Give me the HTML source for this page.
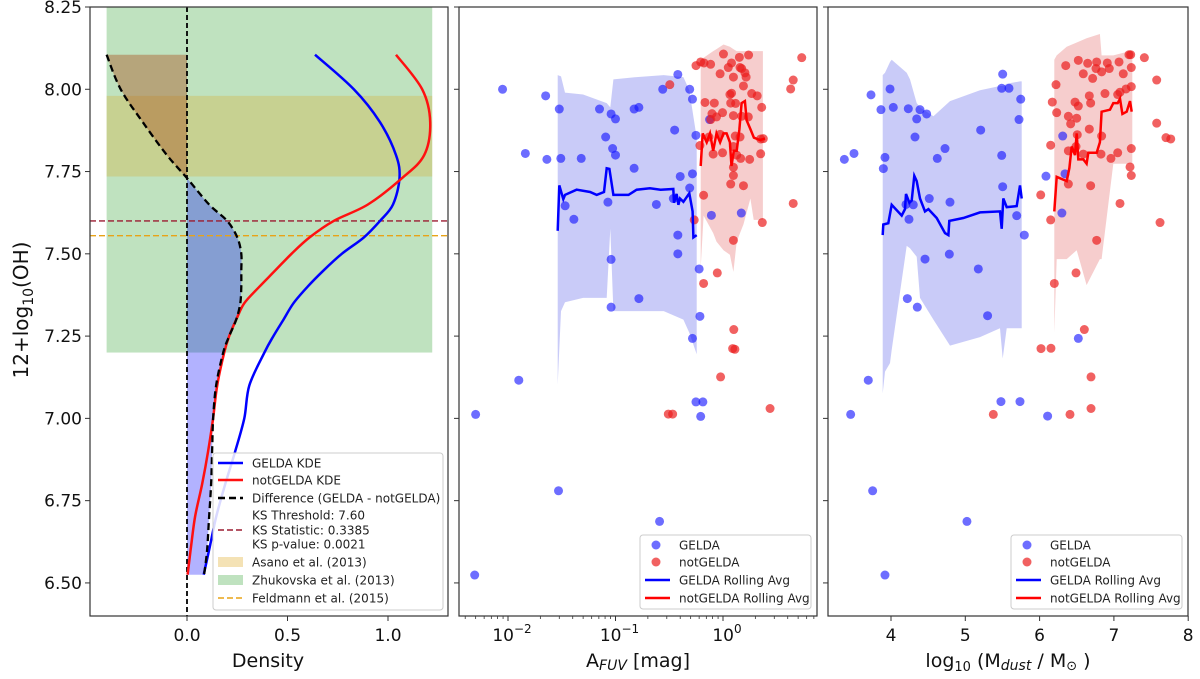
<!DOCTYPE html>
<html><head><meta charset="utf-8"><style>
html,body{margin:0;padding:0;background:#fff;}
svg{display:block;font-family:"DejaVu Sans","Liberation Sans",sans-serif;}
</style></head><body>
<svg id="fig" width="1200" height="679" viewBox="0 0 1200 679" xmlns="http://www.w3.org/2000/svg">
<defs>
<clipPath id="c1"><rect x="90" y="7" width="358" height="609"/></clipPath>
<clipPath id="c2"><rect x="459" y="7" width="358" height="609"/></clipPath>
<clipPath id="c3"><rect x="828" y="7" width="360" height="609"/></clipPath>
</defs>
<g id="p1"></g>
<g id="p2"></g>
<g id="p3"></g>
</svg>
<script>
// ---- shared y ----
const yTicks=[6.50,6.75,7.00,7.25,7.50,7.75,8.00,8.25];
// ---- panel 1 data ----
const kdeGrid=[8.105,8.0,7.9,7.8,7.73,7.65,7.6,7.55,7.5,7.45,7.4,7.35,7.3,7.25,7.2,7.1,7.0,6.9,6.8,6.7,6.6,6.525];
const geldaKde=[0.637,0.83,0.96,1.04,1.057,1.025,0.96,0.88,0.77,0.68,0.60,0.53,0.48,0.43,0.385,0.31,0.285,0.24,0.19,0.145,0.11,0.083];
const notGeldaKde=[1.04,1.17,1.21,1.18,1.07,0.90,0.73,0.61,0.52,0.44,0.36,0.285,0.245,0.21,0.185,0.15,0.13,0.105,0.075,0.04,0.018,0.003];
const diffKde=[-0.40,-0.33,-0.22,-0.10,0,0.11,0.20,0.25,0.27,0.27,0.27,0.265,0.245,0.21,0.18,0.145,0.13,0.125,0.12,0.11,0.10,0.085];
const densTicks=[0.0,0.5,1.0];
const ksThreshold=7.60, feldmann=7.555;
const zhukBand=[7.20,8.25], asanoBand=[7.735,7.98], bandX=[-0.40,1.22];
// ---- panel 2 data ----
const afuvTicks=[-2,-1,0];
const gAfuv=[0.0089,0.0224,0.030,0.0145,0.023,0.031,0.048,0.071,0.091,0.100,0.149,0.165,0.081,0.094,0.10,0.149,0.275,0.38,0.49,0.52,0.355,0.56,0.40,0.52,0.49,0.034,0.041,0.085,0.24,0.345,0.38,0.38,0.091,0.165,0.091,0.60,0.61,0.52,0.78,1.48,0.75,0.0126,0.005,0.56,0.65,0.62,0.0295,0.257,0.0049];
const gOH2=[8.00,7.98,7.94,7.805,7.787,7.79,7.79,7.94,7.925,7.91,7.94,7.945,7.855,7.82,7.80,7.76,8.00,8.045,8.00,7.97,7.876,7.86,7.735,7.743,7.70,7.646,7.605,7.657,7.65,7.668,7.557,7.50,7.483,7.364,7.338,7.454,7.31,7.243,7.617,7.624,7.908,7.116,7.012,7.05,7.05,7.006,6.78,6.687,6.524];
const nAfuv=[0.561,0.62,0.666,0.767,1.01,1.12,1.20,1.42,1.73,0.94,1.25,1.49,1.60,1.64,1.44,1.55,1.16,1.20,1.85,2.08,0.68,0.83,1.18,1.31,2.29,0.79,0.99,0.77,0.87,1.25,1.49,1.72,0.61,0.74,0.94,1.30,1.25,1.44,2.24,2.37,2.24,0.81,0.99,1.34,1.46,1.77,1.25,1.25,1.18,1.55,0.66,0.54,2.32,1.25,0.66,0.885,0.32,5.4,4.5,4.26,4.5,1.26,1.23,1.29,0.95,2.74,0.31,0.34];
const nOH2=[8.072,8.083,8.08,8.076,8.107,8.066,8.08,8.097,8.104,8.047,8.037,8.063,8.05,8.037,8.066,8.01,7.984,7.988,7.987,7.98,7.96,7.958,7.958,7.957,7.945,7.926,7.929,7.908,7.916,7.92,7.918,7.916,7.829,7.855,7.863,7.858,7.826,7.855,7.849,7.85,7.804,7.803,7.807,7.80,7.79,7.787,7.763,7.738,7.712,7.707,7.678,7.603,7.595,7.541,7.41,7.442,8.014,8.096,8.028,8.001,7.653,7.27,7.212,7.21,7.126,7.03,7.013,7.013];
const gRollX2=[0.029,0.030,0.0327,0.0339,0.0435,0.058,0.0668,0.0782,0.0828,0.0877,0.0955,0.132,0.157,0.209,0.263,0.345,0.35,0.37,0.385,0.398,0.428,0.486,0.522,0.53,0.569];
const gRollY2=[7.570,7.708,7.666,7.679,7.695,7.688,7.679,7.688,7.76,7.758,7.679,7.679,7.695,7.699,7.695,7.697,7.655,7.682,7.649,7.668,7.658,7.684,7.629,7.55,7.557];
const gBandX2=[0.029,0.0311,0.0339,0.05,0.0828,0.0895,0.0955,0.157,0.281,0.428,0.486,0.569];
const gBandHi2=[8.043,8.039,7.99,7.984,7.958,7.945,8.03,8.037,8.043,8.037,7.997,7.853];
const gBandLo2=[7.103,7.326,7.353,7.366,7.366,7.576,7.326,7.326,7.326,7.3,7.26,7.195];
const nRollX2=[0.62,0.647,0.705,0.757,0.81,0.87,0.94,1.01,1.08,1.16,1.20,1.26,1.34,1.42,1.49,1.60,1.66,1.80,1.94,2.21,2.46];
const nRollY2=[7.767,7.866,7.839,7.866,7.813,7.866,7.839,7.866,7.866,7.839,7.767,7.813,7.813,7.879,7.958,7.964,7.905,7.879,7.853,7.846,7.85];
const nBandX2=[0.62,0.66,0.81,0.87,1.01,1.16,1.25,1.34,1.55,1.80,1.93,2.35];
const nBandHi2=[8.09,8.096,8.116,8.122,8.136,8.129,8.122,8.116,8.116,8.116,8.116,8.116];
const nBandLo2=[7.458,7.616,7.563,7.537,7.511,7.497,7.445,7.537,7.59,7.668,7.603,7.603];
// ---- panel 3 data ----
const mdTicks=[4,5,6,7,8];
const gMd=[3.731,3.987,3.865,4.031,4.233,4.346,4.39,4.48,4.323,4.727,4.623,3.919,3.897,3.372,3.502,5.503,5.49,5.588,5.746,5.723,5.207,5.49,5.503,6.086,6.311,6.342,6.30,5.692,5.794,4.794,4.515,4.30,4.242,4.458,4.785,5.175,4.22,4.354,5.30,6.521,3.694,3.457,5.48,5.736,6.108,3.753,5.022,3.919,4.202];
const gOH3=[7.983,8.001,7.938,7.945,7.941,7.91,7.938,7.925,7.855,7.82,7.79,7.793,7.759,7.787,7.805,8.046,8.003,8.003,7.97,7.908,7.876,7.799,7.704,7.736,7.858,7.743,7.624,7.616,7.557,7.657,7.668,7.649,7.605,7.484,7.499,7.454,7.364,7.338,7.312,7.243,7.116,7.012,7.051,7.051,7.007,6.78,6.687,6.524,7.65];
const nMd=[6.352,6.521,6.647,6.768,6.911,7.069,7.203,7.226,7.41,6.588,6.714,6.759,6.835,6.938,7.126,7.234,6.221,7.576,6.171,6.23,6.477,6.521,6.687,6.387,6.418,6.499,6.669,6.88,7.051,7.082,7.163,7.234,6.507,6.669,6.835,6.49,6.149,6.387,6.588,6.826,6.96,7.051,7.234,7.217,7.234,6.387,6.687,6.015,7.082,6.149,7.621,6.768,6.49,6.198,7.576,7.701,7.765,6.602,6.019,6.153,6.692,6.692,6.409,5.377];
const nOH3=[8.072,8.088,8.079,8.083,8.08,8.083,8.105,8.105,8.096,8.047,8.033,8.063,8.053,8.063,8.047,8.066,8.014,8.028,7.961,7.929,7.961,7.949,7.958,7.918,7.895,7.912,7.98,7.987,7.984,7.991,8.001,8.008,7.862,7.879,7.858,7.826,7.83,7.813,7.803,7.803,7.79,7.807,7.82,7.764,7.738,7.712,7.707,7.679,7.653,7.603,7.595,7.541,7.442,7.41,7.897,7.853,7.849,7.27,7.212,7.213,7.126,7.03,7.012,7.012];
const gRollX3=[3.888,3.897,3.964,4.009,4.144,4.188,4.202,4.247,4.278,4.314,4.346,4.39,4.458,4.503,4.615,4.727,4.772,4.785,4.973,5.198,5.467,5.49,5.512,5.557,5.692,5.736,5.759];
const gRollY3=[7.557,7.589,7.593,7.649,7.616,7.636,7.682,7.655,7.662,7.737,7.721,7.668,7.629,7.636,7.609,7.563,7.557,7.6,7.609,7.626,7.629,7.576,7.668,7.642,7.645,7.708,7.668];
const gBandX3=[3.888,3.919,3.987,4.009,4.211,4.256,4.346,4.39,4.57,4.794,5.198,5.467,5.503,5.557,5.736,5.759];
const gBandHi3=[8.043,8.05,8.083,8.09,8.05,8.03,7.958,7.945,7.918,7.964,7.997,8.01,8.01,8.017,8.024,8.024];
const gBandLo3=[7.076,7.142,7.168,7.208,7.524,7.517,7.491,7.366,7.3,7.221,7.247,7.274,7.182,7.274,7.274,7.274];
const nRollX3=[6.198,6.23,6.365,6.401,6.432,6.477,6.499,6.521,6.588,6.633,6.655,6.768,6.812,6.835,6.947,6.992,7.051,7.082,7.114,7.172,7.217,7.239];
const nRollY3=[7.629,7.734,7.721,7.761,7.826,7.8,7.866,7.787,7.787,7.774,7.807,7.807,7.839,7.932,7.938,7.958,7.958,7.971,7.925,7.932,7.964,7.932];
const nBandX3=[6.198,6.23,6.365,6.499,6.633,6.812,6.835,6.992,7.217,7.248];
const nBandHi3=[8.09,8.103,8.129,8.142,8.155,8.168,8.103,8.103,8.116,8.116];
const nBandLo3=[7.26,7.484,7.484,7.511,7.405,7.484,7.484,7.774,7.774,7.774];

// ---- scales ----
const Y=v=>7+(8.25-v)*329.1;
const X1=v=>187+v*201;
const X2=a=>723+Math.log10(a)*107.5;
const X3=m=>891+(m-4)*74.3;
const NS='http://www.w3.org/2000/svg';
function mk(parent,tag,attrs,text){const e=document.createElementNS(NS,tag);for(const k in attrs)e.setAttribute(k,attrs[k]);if(text!=null)e.textContent=text;parent.appendChild(e);return e;}
function pts(xs,ys,fx){return xs.map((x,i)=>fx(x).toFixed(1)+','+Y(ys[i]).toFixed(1)).join(' ');}
function band(xs,hi,lo,fx){return pts(xs,hi,fx)+' '+pts(xs.slice().reverse(),lo.slice().reverse(),fx);}
// catmull-rom smooth path through pixel points
function smooth(P,move){
  let d=(move===false?'L':'M')+P[0][0].toFixed(1)+','+P[0][1].toFixed(1);
  for(let i=0;i<P.length-1;i++){
    const p0=P[Math.max(0,i-1)],p1=P[i],p2=P[i+1],p3=P[Math.min(P.length-1,i+2)];
    const c1=[p1[0]+(p2[0]-p0[0])/6,p1[1]+(p2[1]-p0[1])/6];
    const c2=[p2[0]-(p3[0]-p1[0])/6,p2[1]-(p3[1]-p1[1])/6];
    d+=' C'+c1[0].toFixed(1)+','+c1[1].toFixed(1)+' '+c2[0].toFixed(1)+','+c2[1].toFixed(1)+' '+p2[0].toFixed(1)+','+p2[1].toFixed(1);
  }
  return d;
}
function curvePts(xs,ys){return ys.map((v,i)=>[X1(xs[i]),Y(v)]);}

function frame(g,x0,x1,labels){
  for(const t of yTicks){const y=Y(t);const tk=mk(g,'line',{x1:x0-5,x2:x0,y1:y,y2:y,stroke:'#333','stroke-width':1});
    
    
    if(labels){const tl=mk(g,'text',{x:x0-8,y:y+6,'text-anchor':'end','font-size':17,fill:'#111'},t.toFixed(2));
      
      }}
  const r=mk(g,'rect',{x:x0,y:7,width:x1-x0,height:609,fill:'none',stroke:'#333','stroke-width':1.2});
  
  
}
function legend(g,x,y,w,items){
  const h=items.length===4?74:157;
  const b=mk(g,'rect',{x:x,y:y,width:w,height:h,rx:3,fill:'rgba(255,255,255,0.85)',stroke:'#ccc','stroke-width':1});
  
  
  for(const it of items){
    const gi=mk(g,'g',{});
    
    
    if(it.t==='line')mk(gi,'line',{x1:x+5,x2:x+30,y1:it.y,y2:it.y,stroke:it.c,'stroke-width':it.w||2.5,'stroke-dasharray':it.d||'none'});
    if(it.t==='dot')mk(gi,'circle',{cx:x+16,cy:it.y,r:4.5,fill:it.c});
    if(it.t==='patch')mk(gi,'rect',{x:x+5,y:it.y-5,width:25,height:10,fill:it.c});
    mk(gi,'text',{x:x+39,y:it.y+4.5,'font-size':12,fill:'#222'},it.s);
  }
}
const BLUE='rgba(20,20,255,0.62)', RED='rgba(235,30,30,0.7)';

// ===== Panel 1 =====
(function(){
  const g=document.getElementById('p1');
  const c=mk(g,'g',{'clip-path':'url(#c1)'});
  let e=mk(c,'rect',{x:X1(bandX[0]),y:Y(zhukBand[1]),width:X1(bandX[1])-X1(bandX[0]),height:Y(zhukBand[0])-Y(zhukBand[1]),fill:'rgba(44,160,44,0.3)'});
  
  
  e=mk(c,'rect',{x:X1(bandX[0]),y:Y(asanoBand[1]),width:X1(bandX[1])-X1(bandX[0]),height:Y(asanoBand[0])-Y(asanoBand[1]),fill:'rgba(220,170,40,0.3)'});
  
  
  const negX=[],negY=[],posX=[],posY=[];
  kdeGrid.forEach((v,i)=>{if(diffKde[i]<=0){negX.push(diffKde[i]);negY.push(v);} if(diffKde[i]>=0){posX.push(diffKde[i]);posY.push(v);}});
  const negD=smooth(curvePts(negX,negY))+' L'+X1(0)+','+Y(negY[negY.length-1])+' L'+X1(0)+','+Y(negY[0])+' Z';
  e=mk(c,'path',{d:negD,fill:'rgba(170,90,40,0.45)'});
  
  
  const posD=smooth(curvePts(posX,posY))+' L'+X1(0)+','+Y(posY[posY.length-1])+' L'+X1(0)+','+Y(posY[0])+' Z';
  e=mk(c,'path',{d:posD,fill:'rgba(0,0,255,0.3)'});
  
  
  e=mk(c,'line',{x1:X1(0),x2:X1(0),y1:7,y2:616,stroke:'#000','stroke-width':1.8,'stroke-dasharray':'5,3'});
  
  
  e=mk(c,'line',{x1:90,x2:448,y1:Y(ksThreshold),y2:Y(ksThreshold),stroke:'#9b1b30','stroke-width':1.4,'stroke-dasharray':'6,3'});
  
  
  e=mk(c,'line',{x1:90,x2:448,y1:Y(feldmann),y2:Y(feldmann),stroke:'#e8a317','stroke-width':1.4,'stroke-dasharray':'6,3'});
  
  
  e=mk(c,'path',{d:smooth(curvePts(geldaKde,kdeGrid)),fill:'none',stroke:'#0000ff','stroke-width':2.5});
  
  
  e=mk(c,'path',{d:smooth(curvePts(notGeldaKde,kdeGrid)),fill:'none',stroke:'#ff1010','stroke-width':2.5});
  
  
  e=mk(c,'path',{d:smooth(curvePts(diffKde,kdeGrid)),fill:'none',stroke:'#000','stroke-width':2.3,'stroke-dasharray':'7,4'});
  
  
  frame(g,90,448,true);
  for(const t of densTicks){const x=X1(t);mk(g,'line',{x1:x,x2:x,y1:616,y2:621,stroke:'#333'});
    const tl=mk(g,'text',{x:x,y:641,'text-anchor':'middle','font-size':17,fill:'#111'},t.toFixed(1));
    
    }
  e=mk(g,'text',{x:268,y:667,'text-anchor':'middle','font-size':19,fill:'#111'},'Density');
  
  
  e=mk(g,'text',{x:0,y:0,'text-anchor':'middle','font-size':20,fill:'#111',transform:'translate(28,310) rotate(-90)'});
  
  
  mk(e,'tspan',{},'12+log');mk(e,'tspan',{'font-size':14,dy:5},'10');mk(e,'tspan',{dy:-5},'(OH)');
  legend(g,213,453,230,[
    {t:'line',c:'#0000ff',y:463,s:'GELDA KDE'},
    {t:'line',c:'#ff1010',y:480,s:'notGELDA KDE'},
    {t:'line',c:'#000',y:498,d:'7,4',s:'Difference (GELDA - notGELDA)'},
    {t:'none',y:515,s:'KS Threshold: 7.60'},
    {t:'line',c:'#9b1b30',y:530,w:1.4,d:'6,3',s:'KS Statistic: 0.3385'},
    {t:'none',y:544,s:'KS p-value: 0.0021'},
    {t:'patch',c:'rgba(230,190,90,0.45)',y:562,s:'Asano et al. (2013)'},
    {t:'patch',c:'rgba(44,160,44,0.3)',y:580,s:'Zhukovska et al. (2013)'},
    {t:'line',c:'#e8a317',y:598,w:1.4,d:'6,3',s:'Feldmann et al. (2015)'}]);
})();

function scatterPanel(id,clip,fx,x0,x1,d){
  const g=document.getElementById(id);
  const c=mk(g,'g',{'clip-path':'url(#'+clip+')'});
  let e=mk(c,'polygon',{points:band(d.gbx,d.gbh,d.gbl,fx),fill:'rgba(60,70,230,0.28)'});
  
  
  e=mk(c,'polygon',{points:band(d.nbx,d.nbh,d.nbl,fx),fill:'rgba(225,90,90,0.3)'});
  
  
  d.gx.forEach((v,i)=>{const p=mk(c,'circle',{cx:fx(v),cy:Y(d.gy[i]),r:4.5,fill:BLUE});
    
    });
  d.nx.forEach((v,i)=>{const p=mk(c,'circle',{cx:fx(v),cy:Y(d.ny[i]),r:4.5,fill:RED});
    
    });
  e=mk(c,'polyline',{points:pts(d.grx,d.gry,fx),fill:'none',stroke:'#0000ff','stroke-width':2.5});
  
  
  e=mk(c,'polyline',{points:pts(d.nrx,d.nry,fx),fill:'none',stroke:'#ff0000','stroke-width':2.5});
  
  
  frame(g,x0,x1,false);
  legend(g,x1-177,535,171,[
    {t:'dot',c:BLUE,y:545,s:'GELDA'},
    {t:'dot',c:RED,y:562,s:'notGELDA'},
    {t:'line',c:'#0000ff',y:580,s:'GELDA Rolling Avg'},
    {t:'line',c:'#ff0000',y:598,s:'notGELDA Rolling Avg'}]);
  return g;
}
// ===== Panel 2 =====
(function(){
  const g=scatterPanel('p2','c2',X2,459,817,{gbx:gBandX2,gbh:gBandHi2,gbl:gBandLo2,nbx:nBandX2,nbh:nBandHi2,nbl:nBandLo2,gx:gAfuv,gy:gOH2,nx:nAfuv,ny:nOH2,grx:gRollX2,gry:gRollY2,nrx:nRollX2,nry:nRollY2});
  for(let dd=-3;dd<=0;dd++)for(let k=2;k<=9;k++){const x=X2(k*Math.pow(10,dd));if(x>459&&x<817)mk(g,'line',{x1:x,x2:x,y1:616,y2:619,stroke:'#333','stroke-width':0.8});}
  for(const t of afuvTicks){const x=X2(Math.pow(10,t));mk(g,'line',{x1:x,x2:x,y1:616,y2:621,stroke:'#333'});
    const tl=mk(g,'text',{x:x+4,y:641,'text-anchor':'middle','font-size':17,fill:'#111'});
    
    
    mk(tl,'tspan',{},'10');mk(tl,'tspan',{'font-size':12,dy:-8},t===0?'0':'\u2212'+(-t));}
  const e=mk(g,'text',{x:638,y:667,'text-anchor':'middle','font-size':19,fill:'#111'});
  
  
  mk(e,'tspan',{},'A');mk(e,'tspan',{'font-size':14,'font-style':'italic',dy:3},'FUV');mk(e,'tspan',{dy:-3},' [mag]');
})();
// ===== Panel 3 =====
(function(){
  const g=scatterPanel('p3','c3',X3,828,1188,{gbx:gBandX3,gbh:gBandHi3,gbl:gBandLo3,nbx:nBandX3,nbh:nBandHi3,nbl:nBandLo3,gx:gMd,gy:gOH3,nx:nMd,ny:nOH3,grx:gRollX3,gry:gRollY3,nrx:nRollX3,nry:nRollY3});
  for(const t of mdTicks){const x=X3(t);mk(g,'line',{x1:x,x2:x,y1:616,y2:621,stroke:'#333'});
    const tl=mk(g,'text',{x:x,y:641,'text-anchor':'middle','font-size':17,fill:'#111'},String(t));
    
    }
  const e=mk(g,'text',{x:1008,y:667,'text-anchor':'middle','font-size':19,fill:'#111'});
  
  
  mk(e,'tspan',{},'log');mk(e,'tspan',{'font-size':13,dy:4},'10');mk(e,'tspan',{dy:-4},'  (M');mk(e,'tspan',{'font-size':14,'font-style':'italic',dy:3},'dust');mk(e,'tspan',{dy:-3},' / M');mk(e,'tspan',{'font-size':13,dy:3},'\u2299');mk(e,'tspan',{dy:-3},' )');
})();
</script>
</body></html>
